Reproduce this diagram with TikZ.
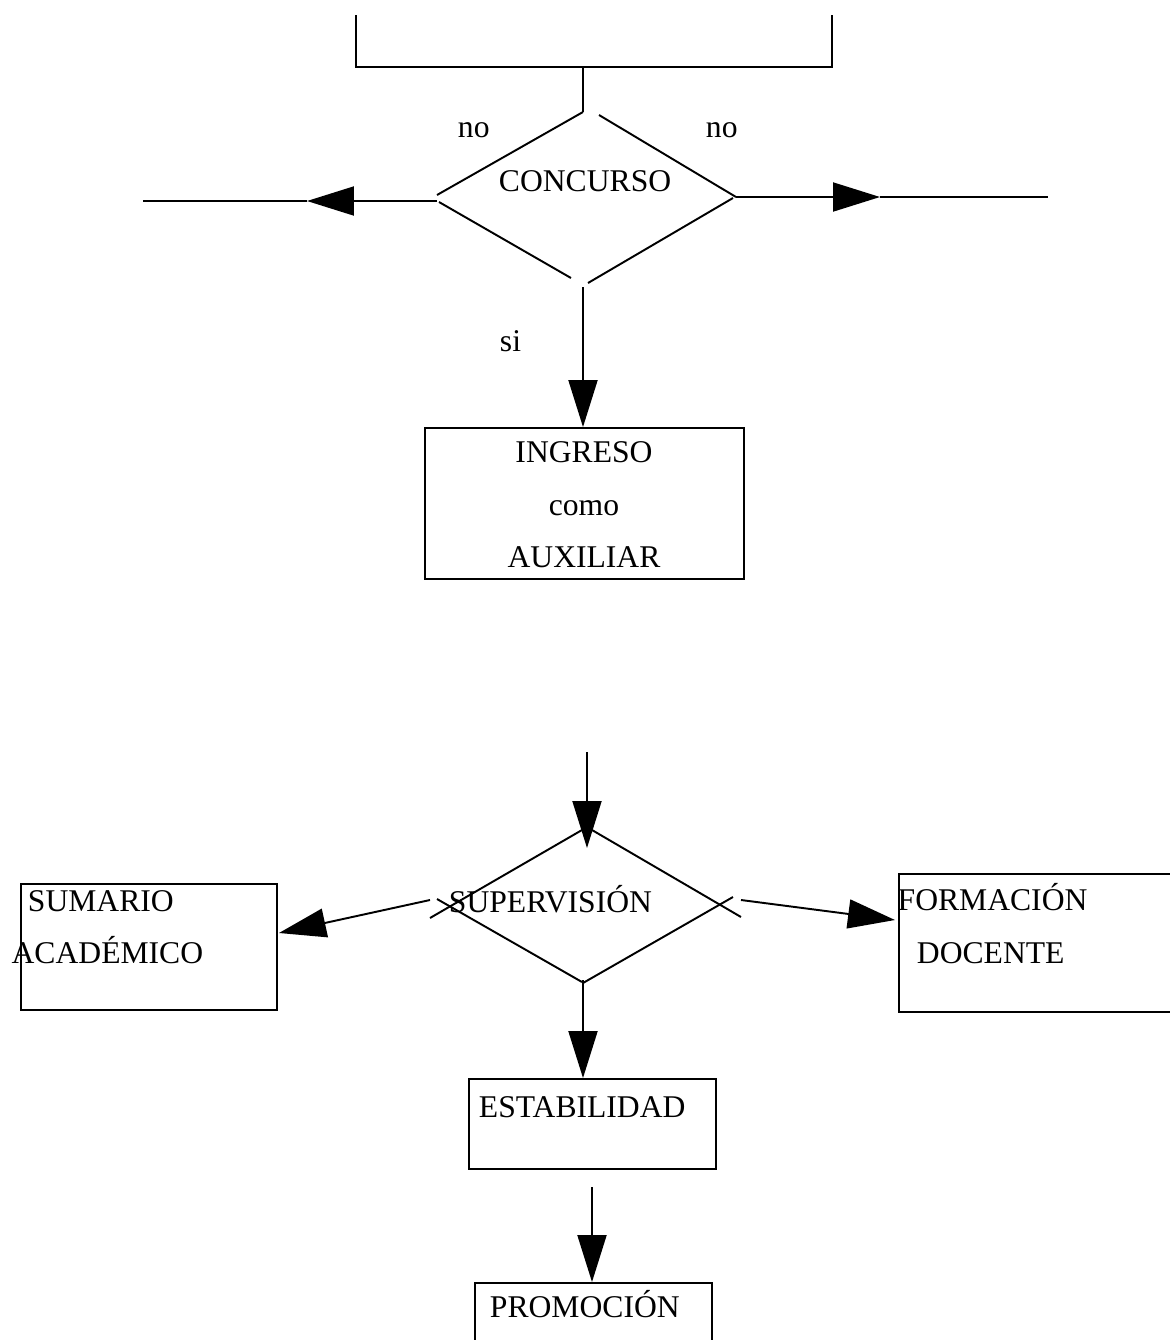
\documentclass[tikz,border=0pt]{standalone}
\usepackage{fontspec}
\setmainfont{Liberation Serif}
\usetikzlibrary{arrows.meta}
\begin{document}
\begin{tikzpicture}[x=0.02cm,y=-0.02cm, line width=1.1pt,
  txt/.style={inner sep=0pt, font=\fontsize{18}{21}\selectfont},
  boxn/.style={draw, line width=1.1pt, rectangle, inner sep=0pt},
  arr/.style={-{Triangle[length=0.94cm,width=0.58cm]}}]
\clip (0,0) rectangle (1170,1340);

% ---------- top bracket ----------
\coordinate (b1) at (356,15);
\coordinate (b2) at (356,67);
\coordinate (bm) at (583,67);
\coordinate (b3) at (832,67);
\coordinate (b4) at (832,15);
\draw (b1) -- (b2) -- (b3) -- (b4);

% ---------- diamond 1 ----------
\coordinate (d1t) at (583,112);
\coordinate (d1tl1) at (437,195);
\coordinate (d1tr0) at (599,115);
\coordinate (d1tr1) at (736,197);
\coordinate (d1bl0) at (439,202);
\coordinate (d1bl1) at (571,278);
\coordinate (d1br0) at (733,198);
\coordinate (d1br1) at (588,283);
\draw (bm) -- (d1t);
\draw (d1tl1) -- (d1t);
\draw (d1tr0) -- (d1tr1);
\draw (d1bl0) -- (d1bl1);
\draw (d1br0) -- (d1br1);
\node[txt, anchor=base west] (concurso) at (498,191) {CONCURSO};
\node[txt, anchor=base west] (no1) at (457,137) {no};
\node[txt, anchor=base west] (no2) at (705,137) {no};
\node[txt, anchor=base west] (si) at (499,351) {si};

% left / right branches
\coordinate (d1l) at (437,201);
\coordinate (la) at (307,201);
\coordinate (lend) at (143,201);
\draw[arr] (d1l) -- (la);
\draw (la) -- (lend);
\coordinate (d1r) at (736,197);
\coordinate (ra) at (880,197);
\coordinate (rend) at (1048,197);
\draw[arr] (d1r) -- (ra);
\draw (ra) -- (rend);

% ---------- ingreso ----------
\node[boxn, minimum width=6.38cm, minimum height=3.02cm] (ingreso) at (584.5,503.5) {};
\node[txt, anchor=base] (ing1) at (584,462) {INGRESO};
\node[txt, anchor=base] (ing2) at (584,515) {como};
\node[txt, anchor=base] (ing3) at (584,567) {AUXILIAR};
\coordinate (d1b) at (583,287);
\draw[arr] (d1b) -- (ingreso.north -| d1b);

% ---------- diamond 2 ----------
\coordinate (in2) at (587,752);
\coordinate (d2t) at (587,848);
\draw[arr] (in2) -- (d2t);
\coordinate (tl0) at (430,918);
\coordinate (tl1) at (582,830);
\coordinate (bl0) at (437,899);
\coordinate (bl1) at (582,982);
\coordinate (tr0) at (592,830);
\coordinate (tr1) at (741,917);
\coordinate (br0) at (733,897);
\coordinate (br1) at (583,983);
\draw (tl0) -- (tl1);
\draw (bl0) -- (bl1);
\draw (tr0) -- (tr1);
\draw (br0) -- (br1);
\node[txt, anchor=base west] (superv) at (448,912) {SUPERVISIÓN};

% ---------- sumario ----------
\node[boxn, minimum width=5.13cm, minimum height=2.52cm] (sumario) at (148.85,947) {};
\node[txt, anchor=base west] (sum1) at (27,911) {SUMARIO};
\node[txt, anchor=base west] (sum2) at (10.7,963) {ACADÉMICO};
\coordinate (d2l) at (430,900);
\coordinate (sumtip) at (279,933);
\draw[arr] (d2l) -- (sumtip);

% ---------- formacion ----------
\node[boxn, minimum width=6.42cm, minimum height=2.76cm] (formacion) at (1059.5,943) {};
\node[txt, anchor=base west] (for1) at (896.7,910) {FORMACIÓN};
\node[txt, anchor=base west] (for2) at (916,963) {DOCENTE};
\coordinate (d2r) at (741,900);
\coordinate (fortip) at (895,920);
\draw[arr] (d2r) -- (fortip);

% ---------- estabilidad ----------
\node[boxn, minimum width=4.94cm, minimum height=1.8cm] (estab) at (592.5,1124) {};
\node[txt, anchor=base west] (est1) at (478,1117) {ESTABILIDAD};
\coordinate (d2b) at (583,980);
\draw[arr] (d2b) -- (estab.north -| d2b);

% ---------- promocion ----------
\node[boxn, minimum width=4.74cm, minimum height=2.34cm] (promo) at (593.5,1341.5) {};
\node[txt, anchor=base west] (pro1) at (489,1317) {PROMOCIÓN};
\coordinate (es) at (592,1187);
\draw[arr] (es) -- (promo.north -| es);
\end{tikzpicture}
\end{document}
